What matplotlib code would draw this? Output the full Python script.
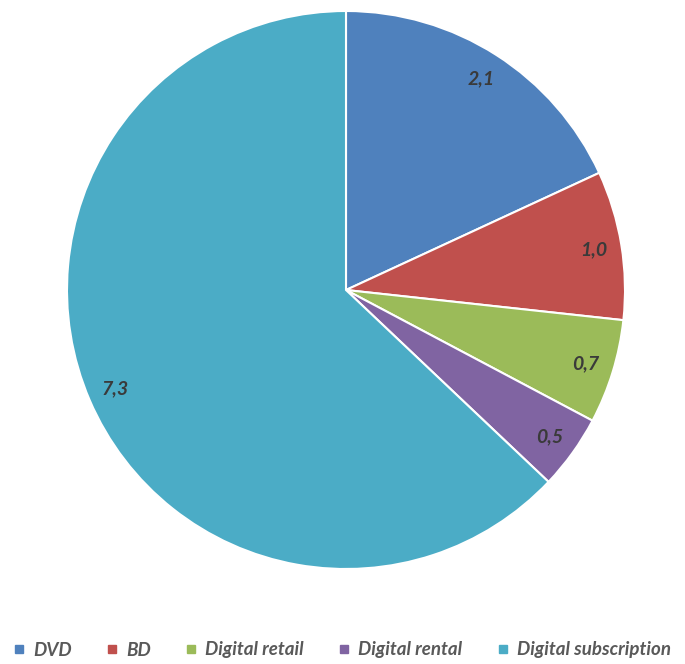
import matplotlib
matplotlib.use("Agg")
import matplotlib.pyplot as plt
from matplotlib.lines import Line2D

plt.rcParams["font.family"] = ["Lato", "DejaVu Sans"]

# ---------- data ----------
categories = ["DVD", "BD", "Digital retail", "Digital rental", "Digital subscription"]
values = [2.1, 1.0, 0.7, 0.5, 7.3]
value_labels = ["2,1", "1,0", "0,7", "0,5", "7,3"]
colors = ["#4F81BD", "#C0504D", "#9BBB59", "#8064A2", "#4BACC6"]

W, H = 685, 664
cx, cy, r = 346, 290, 279

fig = plt.figure(figsize=(W / 100, H / 100), dpi=100)
ax = fig.add_axes([(cx - r) / W, (H - cy - r) / H, 2 * r / W, 2 * r / H])

wedges, texts = ax.pie(values, labels=value_labels, colors=colors, startangle=90,
                       counterclock=False, labeldistance=0.9, radius=1,
                       wedgeprops=dict(edgecolor="white", linewidth=1.5))
for t in texts:
    t.set_ha("center"); t.set_va("center")
    t.set_fontsize(14); t.set_fontweight("bold"); t.set_fontstyle("italic")
    t.set_color("#3A3A3A")
ax.set_xlim(-1, 1); ax.set_ylim(-1, 1)
ax.set_aspect("equal")
ax.axis("off")

handles = [Line2D([], [], marker="s", linestyle="none", markersize=6,
                  markerfacecolor=c, markeredgecolor=c) for c in colors]
leg = fig.legend(handles, categories, loc="center", bbox_to_anchor=(0.5, 1 - 650 / H),
                 ncol=5, frameon=False, handlelength=0.5, handletextpad=0.5,
                 columnspacing=1.9, borderaxespad=0, borderpad=0,
                 prop=dict(size=13.5, weight="bold", style="italic"))
for t in leg.get_texts():
    t.set_color("#595959")

fig.savefig("out.png", dpi=100, facecolor="white")
